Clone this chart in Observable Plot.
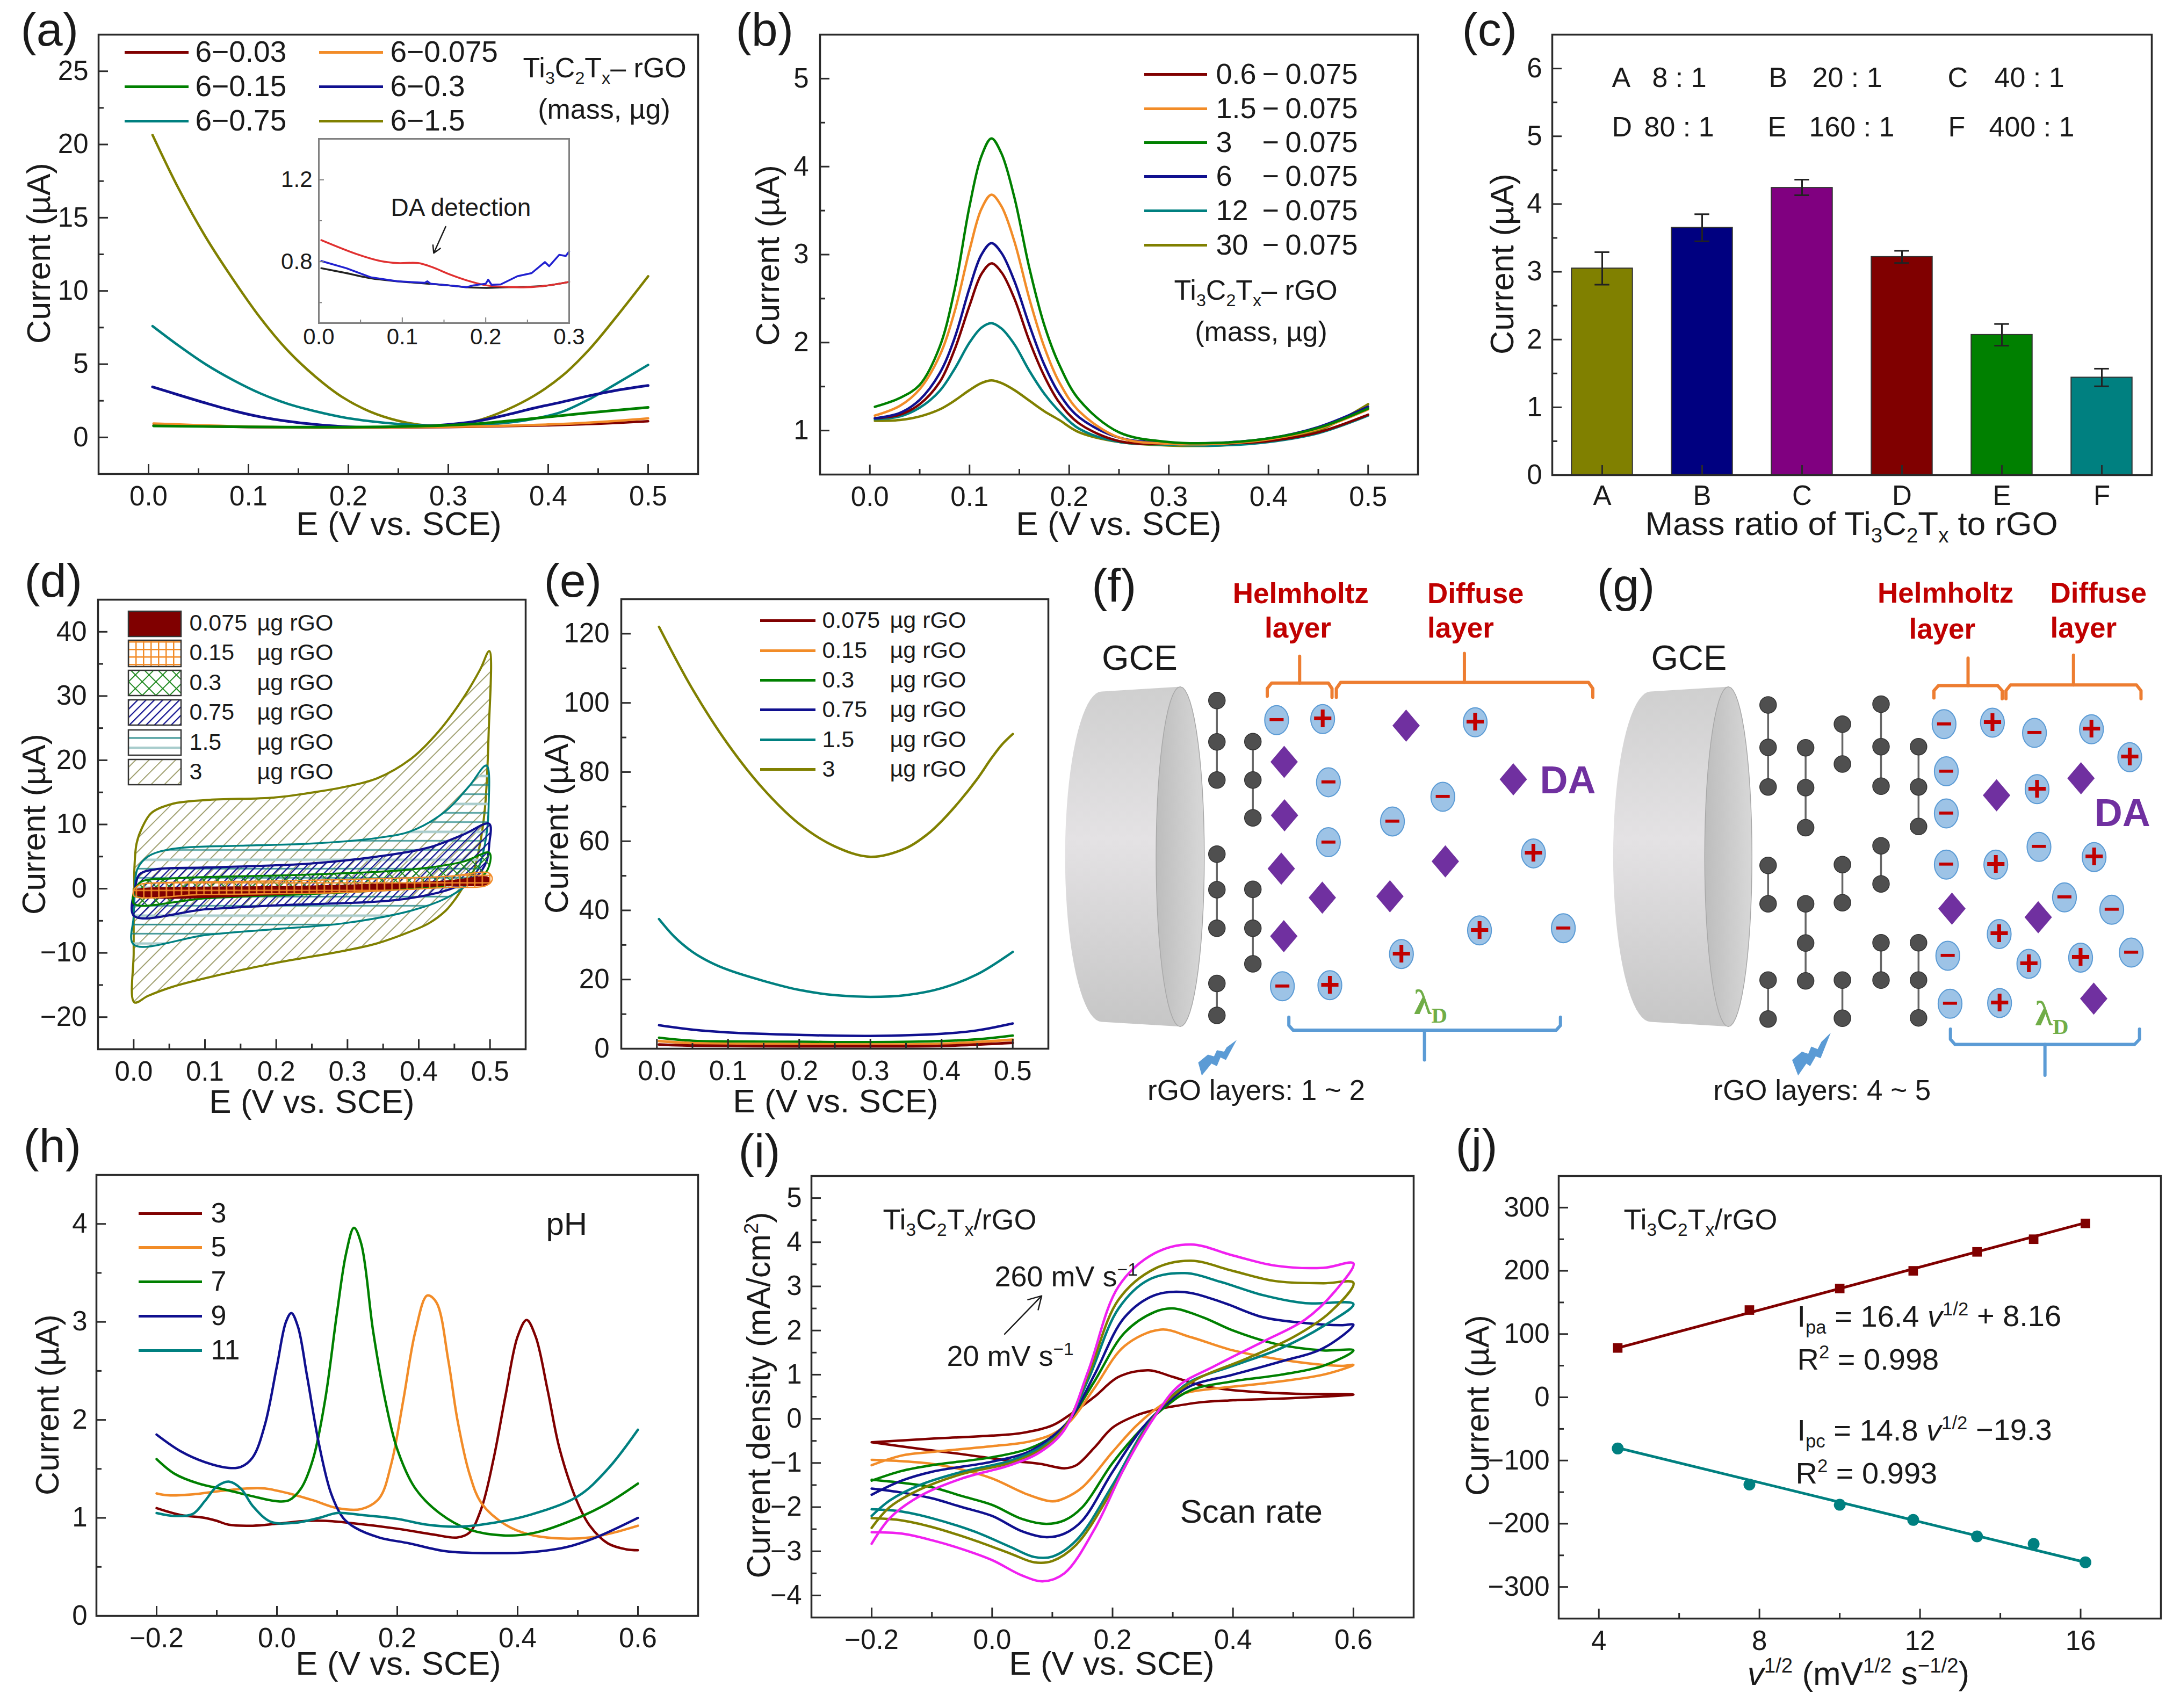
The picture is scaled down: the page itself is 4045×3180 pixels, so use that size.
<!DOCTYPE html>
<html><head><meta charset="utf-8">
<script src="https://cdn.jsdelivr.net/npm/d3@7"></script>
<script src="https://cdn.jsdelivr.net/npm/@observablehq/plot@0.6"></script>
<style>html,body{margin:0;padding:0;background:#fff}#root{position:relative;width:4045px;height:3180px;background:#fff;overflow:hidden}</style>
</head><body><div id="root"></div>
<script>
// ---------- colours
const RED='#800000',ORG='#f28c28',GRN='#008000',NAVY='#10108f',TEAL='#008080',OLV='#808000',MAG='#f020f0',PUR='#800080';
const INK='#1a1a1a';

// ---------- (a) curves [E, I]
const a_003=[[.005,.82],[.1,.7],[.2,.66],[.3,.7],[.4,.82],[.45,.93],[.5,1.1]];
const a_0075=[[.005,.95],[.1,.74],[.2,.67],[.3,.72],[.4,.88],[.45,1.05],[.5,1.3]];
const a_015=[[.005,.78],[.1,.72],[.2,.7],[.277,.78],[.332,.95],[.386,1.3],[.441,1.68],[.5,2.05]];
const a_03=[[.004,3.45],[.03,2.9],[.057,2.35],[.085,1.82],[.112,1.4],[.139,1.1],[.167,.88],[.194,.74],[.222,.68],[.249,.7],[.277,.78],[.304,.9],[.332,1.15],[.359,1.55],[.386,2.0],[.414,2.42],[.441,2.84],[.469,3.22],[.5,3.54]];
const a_075=[[.004,7.6],[.03,6.27],[.057,5.0],[.085,3.9],[.112,3.0],[.139,2.3],[.167,1.78],[.194,1.38],[.222,1.1],[.249,.92],[.277,.82],[.304,.8],[.332,.84],[.359,1.0],[.386,1.27],[.414,1.75],[.441,2.6],[.469,3.7],[.5,4.95]];
const a_15=[[.004,20.65],[.03,17.0],[.057,13.7],[.085,10.75],[.112,8.15],[.139,5.95],[.167,4.15],[.194,2.75],[.222,1.75],[.249,1.15],[.277,.82],[.304,.82],[.332,1.2],[.359,1.9],[.386,2.85],[.414,4.2],[.441,6.0],[.469,8.3],[.5,11.0]];
const aNames=['6−0.03','6−0.15','6−0.75','6−0.075','6−0.3','6−1.5'];
// inset of (a)
const inRed=[[.003,.905],[.045,.8375],[.074,.803],[.0945,.793],[.119,.793],[.136,.773],[.156,.739],[.177,.709],[.201,.684],[.226,.677],[.25,.675],[.275,.684],[.3,.701]];
const inBlack=[[.003,.768],[.033,.744],[.062,.719],[.0945,.704],[.156,.684],[.177,.675],[.201,.672],[.226,.675],[.25,.677],[.275,.684],[.3,.701]];
const inBlue=[[.003,.803],[.033,.768],[.062,.724],[.0945,.704],[.127,.697],[.13,.704],[.134,.692],[.156,.684],[.177,.675],[.185,.684],[.2,.692],[.203,.712],[.207,.687],[.218,.689],[.238,.729],[.255,.744],[.271,.798],[.276,.778],[.288,.833],[.296,.828],[.3,.85]];

// ---------- (b) curves
const bE=[.005,.03,.05,.07,.085,.1,.112,.122,.132,.145,.16,.175,.19,.21,.25,.3,.35,.4,.45,.5];
const b30=[1.11,1.12,1.16,1.24,1.34,1.46,1.54,1.57,1.54,1.46,1.34,1.22,1.12,.98,.87,.83,.83,.88,1.0,1.3];
const b12=[1.13,1.16,1.26,1.45,1.7,2.0,2.17,2.22,2.16,1.98,1.68,1.42,1.22,1.02,.87,.84,.83,.87,.97,1.17];
const b06=[1.14,1.18,1.3,1.55,1.92,2.42,2.78,2.9,2.8,2.5,2.02,1.62,1.32,1.08,.88,.85,.85,.88,.98,1.18];
const b6=[1.14,1.2,1.35,1.65,2.05,2.62,3.0,3.13,3.02,2.7,2.2,1.75,1.42,1.15,.92,.86,.86,.91,1.04,1.27];
const b15=[1.17,1.28,1.47,1.85,2.35,3.05,3.52,3.68,3.55,3.15,2.5,1.95,1.55,1.22,.92,.85,.85,.9,1.02,1.24];
const b3=[1.27,1.37,1.52,1.95,2.6,3.55,4.12,4.32,4.15,3.65,2.85,2.2,1.75,1.35,.98,.87,.86,.91,1.03,1.25];
const bNames=['0.6','1.5','3','6','12','30'];

// ---------- (c) bars
const cCats=['A','B','C','D','E','F'];
const cVals=[3.05,3.65,4.24,3.22,2.07,1.44];
const cLo=[2.81,3.45,4.13,3.13,1.91,1.31];
const cHi=[3.29,3.85,4.36,3.31,2.23,1.57];
const cCols=[OLV,'#000080',PUR,RED,GRN,TEAL];

// ---------- (d) CV loops
const dE3=[[.001,0],[.001,3],[.004,7],[.011,9.3],[.025,11.8],[.054,13.2],[.102,13.8],[.198,14.2],[.246,14.9],[.294,15.8],[.342,17.2],[.39,20.3],[.428,24.5],[.462,29.6],[.486,34.1],[.499,37],[.498,24],[.493,12.7],[.486,7],[.476,2.5],[.462,.2],[.452,-1.5],[.438,-3.4],[.414,-5.4],[.39,-6.6],[.342,-8.5],[.294,-9.7],[.198,-11.6],[.102,-13.9],[.054,-15.3],[.02,-16.7],[.001,-17.7],[0,-10],[0,-4.3],[0,0]];
const dE15=[[.002,0],[.005,3],[.02,5],[.054,6.2],[.15,6.7],[.246,7],[.342,7.9],[.39,9],[.438,12.1],[.471,16],[.495,19.2],[.498,12.7],[.493,7],[.483,3],[.466,.5],[.438,-1.5],[.39,-3.4],[.294,-5.4],[.198,-6.3],[.102,-7.2],[0,-8.7],[0,-4.3],[.002,0]];
const dE075=[[.002,0],[.008,2.2],[.03,3],[.102,3.3],[.246,3.9],[.342,5],[.414,6.4],[.462,8.4],[.499,10.1],[.499,7],[.495,4.2],[.481,1.9],[.462,.8],[.438,-.3],[.366,-1.8],[.198,-2.6],[.102,-3.2],[0,-4.2],[.002,0]];
const dE03=[[.002,0],[.011,1.1],[.054,1.6],[.246,2.2],[.39,3],[.462,4.2],[.499,5.6],[.499,3.6],[.486,1.6],[.438,.5],[.294,-.6],[.102,-1.5],[0,-2.3],[.002,0]];
const dE015=[[.001,0],[.01,.7],[.03,.9],[.246,1.3],[.438,1.9],[.499,2.4],[.503,1.4],[.495,.5],[.438,.2],[.294,-.6],[.1,-.9],[0,-1.1],[.001,0]];
const dE0075=[[.003,-.1],[.02,.1],[.246,.4],[.438,1.2],[.498,1.7],[.498,.8],[.438,.5],[.246,-.7],[.003,-.9],[.003,-.1]];
const dNames=['0.075','0.15','0.3','0.75','1.5','3'];

// ---------- (e) curves
const e3=[[.003,122],[.05,104],[.1,88],[.15,75],[.2,65],[.25,58.5],[.3,55.5],[.35,58],[.38,62],[.4,65.8],[.425,71.5],[.45,78],[.47,84],[.485,88],[.5,91]];
const e15=[[.003,37.5],[.025,32.3],[.05,28],[.075,25],[.1,22.8],[.15,19.6],[.2,17],[.25,15.5],[.3,15],[.35,15.5],[.4,17.5],[.45,21.5],[.5,28]];
const e075=[[.003,6.8],[.05,5.5],[.1,4.7],[.2,4],[.3,3.7],[.4,4.3],[.45,5.3],[.5,7.3]];
const e03=[[.003,3.2],[.05,2.3],[.1,2.1],[.2,2],[.3,1.9],[.4,2.2],[.45,2.7],[.5,3.8]];
const e015=[[.003,2.2],[.05,1.6],[.2,1.3],[.3,1.2],[.4,1.4],[.5,2.6]];
const e0075=[[.003,1.2],[.05,.9],[.2,.7],[.3,.7],[.4,.8],[.5,1.7]];

// ---------- (h) curves
const h3=[[-.2,1.1],[-.16,1.03],[-.12,1.0],[-.1,.97],[-.08,.93],[-.04,.92],[0,.94],[.05,.97],[.08,.97],[.12,.95],[.2,.89],[.26,.83],[.3,.8],[.32,.85],[.34,1.1],[.36,1.6],[.38,2.25],[.4,2.85],[.415,3.02],[.43,2.85],[.45,2.3],[.47,1.7],[.5,1.15],[.52,.92],[.55,.74],[.58,.68],[.6,.67]];
const h5=[[-.2,1.25],[-.18,1.23],[-.14,1.24],[-.1,1.27],[-.05,1.3],[-.02,1.3],[.02,1.25],[.06,1.18],[.1,1.1],[.14,1.09],[.17,1.2],[.19,1.55],[.21,2.2],[.23,2.9],[.25,3.27],[.265,3.2],[.285,2.6],[.3,2.0],[.32,1.45],[.34,1.15],[.38,.93],[.42,.83],[.47,.79],[.52,.8],[.56,.85],[.6,.92]];
const h7=[[-.2,1.6],[-.17,1.45],[-.13,1.35],[-.08,1.28],[-.04,1.22],[0,1.17],[.02,1.18],[.04,1.3],[.06,1.6],[.08,2.2],[.1,3.1],[.115,3.7],[.128,3.96],[.14,3.8],[.16,2.9],[.18,2.2],[.2,1.7],[.23,1.3],[.27,1.05],[.32,.88],[.38,.82],[.43,.85],[.5,1.0],[.55,1.15],[.6,1.35]];
const h9=[[-.2,1.85],[-.16,1.68],[-.12,1.57],[-.08,1.51],[-.06,1.52],[-.04,1.62],[-.02,1.95],[0,2.55],[.015,3.0],[.024,3.09],[.035,2.95],[.05,2.45],[.07,1.75],[.09,1.25],[.11,1.0],[.13,.9],[.17,.8],[.22,.74],[.28,.66],[.35,.64],[.42,.65],[.48,.7],[.53,.8],[.6,1.0]];
const h11=[[-.2,1.05],[-.17,1.02],[-.14,1.04],[-.12,1.17],[-.1,1.32],[-.08,1.37],[-.06,1.3],[-.04,1.12],[-.01,.96],[.03,.95],[.07,1.0],[.1,1.05],[.14,1.03],[.2,.99],[.25,.93],[.3,.91],[.36,.95],[.42,1.03],[.5,1.22],[.55,1.5],[.6,1.9]];
const hNames=['3','5','7','9','11'];

// ---------- (i) CV loops
const i20=[[-.2,-.53],[-.1,-.45],[0,-.38],[.05,-.32],[.1,-.15],[.13,.1],[.17,.5],[.21,.95],[.26,1.1],[.3,.95],[.35,.75],[.4,.65],[.5,.57],[.6,.55],[.5,.47],[.4,.42],[.35,.38],[.3,.28],[.27,.2],[.24,.08],[.2,-.2],[.17,-.65],[.14,-1.05],[.12,-1.12],[.08,-1.02],[.03,-.95],[-.05,-.8],[-.12,-.68],[-.2,-.53]];
const i60=[[-.2,-1.05],[-.15,-.83],[-.1,-.75],[0,-.62],[.06,-.52],[.1,-.35],[.13,-.05],[.17,.7],[.22,1.65],[.28,2.02],[.33,1.85],[.4,1.55],[.5,1.3],[.58,1.2],[.6,1.22],[.55,1.0],[.45,.8],[.38,.7],[.32,.58],[.28,.3],[.24,-.15],[.2,-.75],[.15,-1.55],[.12,-1.8],[.1,-1.87],[.06,-1.72],[0,-1.35],[-.05,-1.15],[-.1,-1.02],[-.15,-.96],[-.2,-.93]];
const i100=[[-.2,-1.4],[-.15,-1.18],[-.1,-1.05],[0,-.87],[.06,-.68],[.1,-.4],[.13,0],[.17,.85],[.22,1.95],[.27,2.42],[.3,2.5],[.35,2.3],[.4,2.0],[.47,1.7],[.55,1.55],[.6,1.55],[.55,1.2],[.48,1.0],[.4,.85],[.33,.65],[.29,.3],[.25,-.2],[.2,-1.0],[.15,-2.0],[.12,-2.3],[.09,-2.38],[.05,-2.27],[0,-1.95],[-.05,-1.75],[-.1,-1.55],[-.15,-1.45],[-.2,-1.38]];
const i140=[[-.2,-1.72],[-.15,-1.4],[-.1,-1.2],[0,-.97],[.06,-.75],[.1,-.4],[.13,0],[.17,1.0],[.22,2.3],[.27,2.8],[.32,2.87],[.38,2.65],[.45,2.3],[.52,2.17],[.58,2.12],[.6,2.13],[.55,1.6],[.48,1.3],[.4,1.0],[.33,.75],[.29,.35],[.25,-.2],[.2,-1.2],[.15,-2.3],[.12,-2.6],[.09,-2.68],[.05,-2.55],[0,-2.2],[-.05,-2.0],[-.1,-1.8],[-.15,-1.67],[-.2,-1.58]];
const i180=[[-.2,-2.2],[-.17,-1.85],[-.12,-1.5],[-.05,-1.2],[.03,-.95],[.08,-.65],[.12,-.2],[.16,.9],[.21,2.5],[.26,3.15],[.32,3.3],[.38,3.1],[.45,2.8],[.52,2.62],[.6,2.6],[.55,2.1],[.48,1.6],[.4,1.2],[.33,.85],[.29,.4],[.25,-.3],[.2,-1.5],[.14,-2.75],[.1,-3.12],[.07,-3.13],[.03,-2.9],[-.03,-2.55],[-.1,-2.25],[-.15,-2.1],[-.2,-2.05]];
const i220=[[-.2,-2.47],[-.17,-2.0],[-.12,-1.6],[-.05,-1.25],[.03,-1],[.08,-.7],[.12,-.2],[.16,1.0],[.21,2.7],[.27,3.4],[.33,3.58],[.4,3.35],[.47,3.12],[.55,3.07],[.6,3.08],[.56,2.4],[.5,1.85],[.42,1.35],[.34,.9],[.29,.4],[.25,-.35],[.2,-1.6],[.14,-2.85],[.1,-3.22],[.07,-3.25],[.03,-3.05],[-.03,-2.75],[-.1,-2.45],[-.15,-2.3],[-.2,-2.25]];
const i260=[[-.2,-2.83],[-.17,-2.25],[-.12,-1.75],[-.05,-1.35],[.03,-1.05],[.08,-.75],[.12,-.25],[.16,1.1],[.21,3.0],[.27,3.75],[.33,3.95],[.4,3.7],[.47,3.47],[.55,3.42],[.6,3.52],[.57,2.9],[.52,2.25],[.45,1.75],[.37,1.2],[.31,.75],[.27,.05],[.22,-1.1],[.17,-2.5],[.12,-3.5],[.085,-3.68],[.05,-3.55],[0,-3.2],[-.05,-2.95],[-.1,-2.75],[-.15,-2.6],[-.2,-2.57]];

// ---------- (j) points
const jX=[4.47,7.75,10,11.83,13.42,14.83,16.12];
const jPa=[78,138,172,200,230,250,275];
const jPc=[-81,-138,-170,-194,-220,-232,-261];
const jFitPa=[[4.47,78],[16.12,276]];
const jFitPc=[[4.47,-80],[16.12,-261]];

// ---------- (f) schematic, in its own units
const fMinus=[[636,459],[780,630],[780,795],[652,1192],[1098,670],[958,738],[1433,1032]];
const fPlus=[[764,456],[1188,465],[1350,826],[1200,1038],[983,1103],[784,1189]];
const fDA=[[996,474],[657,574],[658,721],[649,868],[763,948],[951,944],[1105,848],[656,1054],[1294,622]];
const fChains=[[470,[405,519,624]],[470,[828,926,1032]],[470,[1184,1272]],[570,[518,624,728]],[570,[925,1032,1130]]];
// ---------- (g) schematic
const gMinus=[[957,470],[1198,494],[963,600],[963,716],[963,857],[1210,808],[1278,947],[1404,981],[967,1108],[1456,1099],[973,1240]];
const gPlus=[[1086,466],[1350,484],[1452,561],[1205,649],[1095,857],[1357,836],[1104,1048],[1183,1130],[1321,1113],[1105,1238]];
const gDA=[[1097,666],[1322,619],[978,978],[1208,1002],[1356,1226]];
const gChains=[[488,[417,534,643]],[488,[859,965]],[488,[1175,1282]],[588,[535,645,755]],[588,[965,1073,1177]],[686,[470,580]],[686,[857,962]],[686,[1175,1280]],[789,[415,532,641]],[789,[805,910]],[789,[1072,1175]],[889,[532,643,752]],[889,[1072,1175,1279]]];

// ---------- helpers
const root=document.getElementById('root');
const FONT='"Liberation Sans",Arial,sans-serif';
const SVGNS='http://www.w3.org/2000/svg';
function rich(svg){
  svg.querySelectorAll('text').forEach(el=>{
    const s=el.textContent;
    if(!/[_^*]\{/.test(s))return;
    el.textContent='';
    const re=/([_^*])\{([^}]*)\}/g;let last=0,m,cur=0;
    const add=(t,kind)=>{
      if(!t)return;
      const ts=document.createElementNS(SVGNS,'tspan');
      const script=kind==='_'||kind==='^';
      const size=script?.62:1;
      const target=kind==='_'?.24:kind==='^'?-.36:0;
      if(script)ts.setAttribute('font-size','62%');
      if(kind==='*')ts.setAttribute('font-style','italic');
      if(target!==cur)ts.setAttribute('dy',((target-cur)/size).toFixed(3)+'em');
      cur=target;ts.style.whiteSpace='pre';ts.textContent=t;el.appendChild(ts);
    };
    while((m=re.exec(s))){add(s.slice(last,m.index),'');add(m[2],m[1]);last=re.lastIndex;}
    add(s.slice(last),'');
  });
}
const ix=(c,px)=>c.x[0]+(px-c.box[0])/(c.box[2]-c.box[0])*(c.x[1]-c.x[0]);
const iy=(c,py)=>c.y[1]-(py-c.box[1])/(c.box[3]-c.box[1])*(c.y[1]-c.y[0]);
function note(c,px,py,t,o={}){
  return Plot.text([t],{frameAnchor:'top-left',dx:px-c.box[0],dy:py-c.box[1],text:d=>d,fontSize:o.size||51,textAnchor:o.anchor||'start',lineAnchor:o.line||'bottom',rotate:o.rotate||0,fill:o.fill||INK,fontWeight:o.weight,fontFamily:FONT});
}
const curve=(pts,col,w=4.5)=>Plot.line(pts,{x:d=>d[0],y:d=>d[1],stroke:col,strokeWidth:w,curve:'catmull-rom'});
function legendLines(c,x1,x2,ys,cols,w=5){
  return ys.map((y,i)=>Plot.ruleY([iy(c,y)],{x1:ix(c,x1),x2:ix(c,x2),stroke:cols[i],strokeWidth:w}));
}
function panel(c,marks){
  const [L,T,R,B]=c.box,W=R-L,H=B-T,ml=210,mt=90,mr=20,mb=150;
  const col=c.frame||'#2a2a2a',tw=c.tickW||3,tm=c.tickLen||18,tn=c.minorLen||10,fs=c.fontSize||51;
  const svg=Plot.plot({width:W+ml+mr,height:H+mt+mb,marginLeft:ml,marginRight:mr,marginTop:mt,marginBottom:mb,
    x:{domain:c.x,axis:null,...(c.xOpts||{})},y:{domain:c.y,axis:null},
    marks:[...marks,
      Plot.tickX(c.xMajor,{insetTop:H-tm,stroke:col,strokeWidth:tw}),
      ...(c.xMinor?[Plot.tickX(c.xMinor,{insetTop:H-tn,stroke:col,strokeWidth:tw})]:[]),
      Plot.tickY(c.yMajor,{insetRight:W-tm,stroke:col,strokeWidth:tw}),
      ...(c.yMinor?[Plot.tickY(c.yMinor,{insetRight:W-tn,stroke:col,strokeWidth:tw})]:[]),
      Plot.frame({stroke:col,strokeWidth:c.frameW||3.5}),
      Plot.axisX({ticks:c.xMajor,tickSize:0,tickPadding:c.xPad??22,fontSize:fs,label:null,tickFormat:c.xFmt,fill:INK,fontFamily:FONT}),
      Plot.axisY({ticks:c.yLabels||c.yMajor,tickSize:0,tickPadding:c.yPad??19,fontSize:fs,label:null,tickFormat:c.yFmt,fill:INK,fontFamily:FONT}),
    ],
    style:{position:'absolute',left:(L-ml)+'px',top:(T-mt)+'px',overflow:'visible',background:'transparent',maxWidth:'none',fontFamily:FONT}});
  rich(svg);root.appendChild(svg);
}
const f1=d3.format('.1f'),fd=d=>d3.format('d')(d);
const defs=html=>()=>{const g=document.createElementNS(SVGNS,'g');g.innerHTML='<defs>'+html+'</defs>';return g;};
const YLAB='Current (µA)',XLAB='E (V vs. SCE)';
const xLabel=(c,px,py,t=XLAB)=>note(c,px,py,t,{size:62,anchor:'middle'});
const yLabel=(c,px,py,t=YLAB)=>note(c,px,py,t,{size:61,anchor:'middle',rotate:-90});
const tag=(c,px,py,t)=>note(c,px,py,t,{size:88});
const E5={xMajor:[0,.1,.2,.3,.4,.5],xMinor:[.05,.15,.25,.35,.45],xFmt:f1};
const E8={xMajor:[-.2,0,.2,.4,.6],xMinor:[-.1,.1,.3,.5],xFmt:f1};

// ---------- panel a
{const c={box:[183,64,1299,882],x:[-.05,.55],y:[-2.5,27.5],...E5,yMajor:[0,5,10,15,20,25],yMinor:[2.5,7.5,12.5,17.5,22.5],yFmt:fd};
 panel(c,[curve(a_15,OLV),curve(a_075,TEAL),curve(a_03,NAVY,5),curve(a_003,RED),curve(a_0075,ORG),curve(a_015,GRN,5),
  ...legendLines(c,232,351,[97,161,225],[RED,GRN,TEAL]),...legendLines(c,594,713,[97,161,225],[ORG,NAVY,OLV]),
  ...aNames.slice(0,3).map((n,i)=>note(c,363,97+64*i,n,{size:55,line:'middle'})),
  ...aNames.slice(3).map((n,i)=>note(c,726,97+64*i,n,{size:55,line:'middle'})),
  note(c,973,143,'Ti_{3}C_{2}T_{x}– rGO',{size:52}),note(c,1124,220,'(mass, µg)',{size:52,anchor:'middle'}),
  xLabel(c,742,995),yLabel(c,92,471),tag(c,38,84,'(a)')]);}
// ---------- inset of a
{const c={box:[593,258,1059,601],x:[0,.3],y:[.5,1.4],xMajor:[0,.1,.2,.3],xMinor:[.05,.15,.25],yMajor:[.8,1.2],yMinor:[.6,1.0],xFmt:f1,yFmt:f1,frame:'#808080',frameW:3,tickW:2,tickLen:10,minorLen:6,fontSize:42,xPad:10,yPad:12};
 panel(c,[curve(inBlack,'#222',3.5),curve(inRed,'#e03030',3.5),Plot.line(inBlue,{x:d=>d[0],y:d=>d[1],stroke:'#2020d0',strokeWidth:3.5}),
  note(c,727,401,'DA detection',{size:46}),
  Plot.arrow([{x1:.152,y1:.971,x2:.1377,y2:.842}],{x1:'x1',y1:'y1',x2:'x2',y2:'y2',stroke:INK,strokeWidth:2.5,headLength:9,bend:0})]);}

// ---------- panel b
{const c={box:[1526,64,2639,883],x:[-.05,.55],y:[.5,5.5],...E5,yMajor:[1,2,3,4,5],yMinor:[1.5,2.5,3.5,4.5],yFmt:fd,yPad:21};
 const cols=[RED,ORG,GRN,NAVY,TEAL,OLV],ys=[138,202,265,328,392,456];
 panel(c,[...[b30,b12,b06,b6,b15,b3].map((s,i)=>curve(s.map((v,k)=>[bE[k],v]),[OLV,TEAL,RED,NAVY,ORG,GRN][i])),
  ...legendLines(c,2130,2247,ys,cols),
  ...bNames.map((n,i)=>note(c,2263,ys[i],n,{size:54,line:'middle'})),
  ...ys.map(y=>note(c,2349,y,'−',{size:54,line:'middle'})),...ys.map(y=>note(c,2392,y,'0.075',{size:54,line:'middle'})),
  note(c,2185,557,'Ti_{3}C_{2}T_{x}– rGO',{size:52}),note(c,2347,634,'(mass, µg)',{size:52,anchor:'middle'}),
  xLabel(c,2082,995),yLabel(c,1449,475),tag(c,1369,84,'(b)')]);}

// ---------- panel c
{const c={box:[2889,64,4005,884],x:cCats,y:[0,6.5],xOpts:{type:'band',paddingInner:.39,paddingOuter:.195,round:false},xMajor:cCats,yMajor:[0,1,2,3,4,5,6],yMinor:[.5,1.5,2.5,3.5,4.5,5.5],yFmt:fd,xFmt:d=>d,xPad:19};
 const tbl=cCats.map((k,i)=>({k,v:cVals[i],lo:cLo[i],hi:cHi[i],col:cCols[i]}));
 panel(c,[Plot.barY(tbl,{x:'k',y:'v',fill:'col',stroke:'#333',strokeWidth:2}),
  Plot.ruleX(tbl,{x:'k',y1:'lo',y2:'hi',stroke:'#222',strokeWidth:3}),
  Plot.tickY(tbl,{x:'k',y:'hi',insetLeft:43,insetRight:43,stroke:'#222',strokeWidth:3}),
  Plot.tickY(tbl,{x:'k',y:'lo',insetLeft:43,insetRight:43,stroke:'#222',strokeWidth:3}),
  ...[[3000,161,'A'],[3075,161,'8 : 1'],[3292,161,'B'],[3373,161,'20 : 1'],[3625,161,'C'],[3712,161,'40 : 1'],[3000,253,'D'],[3060,253,'80 : 1'],[3290,253,'E'],[3367,253,'160 : 1'],[3626,253,'F'],[3702,253,'400 : 1']].map(r=>note(c,r[0],r[1],r[2],{size:52})),
  xLabel(c,3446,995,'Mass ratio of Ti_{3}C_{2}T_{x} to rGO'),yLabel(c,2816,491),tag(c,2721,84,'(c)')]);}

// ---------- panel d
{const c={box:[182,1116,978,1953],x:[-.05,.55],y:[-25,45],...E5,yMajor:[-20,-10,0,10,20,30,40],yMinor:[-15,-5,5,15,25,35],yFmt:fd,yPad:21};
 const hatch=`
 <pattern id="pOlive" patternUnits="userSpaceOnUse" width="17.5" height="17.5" patternTransform="rotate(45)"><line x1="1" y1="0" x2="1" y2="17.5" stroke="#a0a070" stroke-width="2"/></pattern>
 <pattern id="pTeal" patternUnits="userSpaceOnUse" width="52" height="52"><line x1="0" y1="2" x2="52" y2="2" stroke="#a8cccc" stroke-width="5"/><line x1="0" y1="19" x2="52" y2="19" stroke="#208585" stroke-width="2.5"/><line x1="0" y1="36" x2="52" y2="36" stroke="#208585" stroke-width="2.5"/></pattern>
 <pattern id="pBlue" patternUnits="userSpaceOnUse" width="11" height="11" patternTransform="rotate(45)"><line x1="1" y1="0" x2="1" y2="11" stroke="#10108f" stroke-width="2.5"/></pattern>
 <pattern id="pGreen" patternUnits="userSpaceOnUse" width="18" height="18" patternTransform="rotate(45)"><path d="M1,0V18M0,1H18" stroke="#208a20" stroke-width="2" fill="none"/></pattern>
 <pattern id="pOrange" patternUnits="userSpaceOnUse" width="14" height="14"><path d="M1,0V14M0,1H14" stroke="#f28c28" stroke-width="3" fill="none"/></pattern>`;
 const ys=[[1138,1185],[1192,1241],[1248,1295],[1303,1350],[1359,1406],[1414,1461]];
 const fills=[RED,'url(#pOrange)','url(#pGreen)','url(#pBlue)','url(#pTeal)','url(#pOlive)'];
 const rows=[1160,1215,1271,1326,1382,1437];
 const loop=(s,col,fill,w=3.5)=>Plot.line(s,{x:d=>d[0],y:d=>d[1],stroke:col,strokeWidth:w,fill,curve:'catmull-rom'});
 panel(c,[defs(hatch),loop(dE3,OLV,'url(#pOlive)',4),loop(dE15,TEAL,'url(#pTeal)'),loop(dE075,NAVY,'url(#pBlue)',4),loop(dE03,GRN,'url(#pGreen)'),loop(dE0075,RED,RED,2),loop(dE015,ORG,'url(#pOrange)',2.5),
  ...ys.map((y,i)=>Plot.rect([0],{x1:ix(c,239),x2:ix(c,337),y1:iy(c,y[1]),y2:iy(c,y[0]),fill:fills[i],stroke:'#333',strokeWidth:2.5})),
  ...dNames.map((n,i)=>note(c,352,rows[i],n,{size:43,line:'middle'})),...rows.map(y=>note(c,478,y,'µg rGO',{size:43,line:'middle'})),
  xLabel(c,580,2071),yLabel(c,83,1534),tag(c,45,1110,'(d)')]);}

// ---------- panel e
{const c={box:[1156,1115,1951,1952],x:[-.05,.55],y:[0,130],...E5,yMajor:[0,20,40,60,80,100,120],yMinor:[10,30,50,70,90,110],yFmt:fd,yPad:22};
 const rows=[1155,1211,1266,1321,1377,1432];
 panel(c,[curve(e3,OLV),curve(e15,TEAL),curve(e075,NAVY),curve(e03,GRN),curve(e015,ORG,5),curve(e0075,RED,5),
  ...legendLines(c,1415,1518,rows,[RED,ORG,GRN,NAVY,TEAL,OLV]),
  ...dNames.map((n,i)=>note(c,1530,rows[i],n,{size:43,line:'middle'})),...rows.map(y=>note(c,1656,y,'µg rGO',{size:43,line:'middle'})),
  xLabel(c,1555,2070),yLabel(c,1056,1532),tag(c,1012,1110,'(e)')]);}

// ---------- schematics f, g
const ionSym={draw(p,s){const r=Math.sqrt(s/Math.PI),a=r*.82,b=r*1.0,k=.5523;p.moveTo(0,-b);p.bezierCurveTo(k*a,-b,a,-k*b,a,0);p.bezierCurveTo(a,k*b,k*a,b,0,b);p.bezierCurveTo(-k*a,b,-a,k*b,-a,0);p.bezierCurveTo(-a,-k*b,-k*a,-b,0,-b);p.closePath();}};
const diaSym={draw(p,s){const r=Math.sqrt(s/Math.PI),a=r*.85,b=r;p.moveTo(0,-b);p.lineTo(a,0);p.lineTo(0,b);p.lineTo(-a,0);p.closePath();}};
const ell=(cx,cy,rx,ry,a0,a1,n=40)=>d3.range(n+1).map(i=>{const t=(a0+(a1-a0)*i/n)*Math.PI/180;return [cx+rx*Math.cos(t),cy+ry*Math.sin(t)];});
const X0=d=>d[0],Y0=d=>d[1];
function schematic(o){
  const sn=(x,y,t,p={})=>Plot.text([t],{x:()=>x,y:()=>y,text:d=>d,fontSize:p.size||51,fill:p.fill||INK,fontWeight:p.weight,textAnchor:p.anchor||'start',lineAnchor:'bottom',fontFamily:p.family||FONT});
  const poly=(pts,fill)=>Plot.line(pts,{x:X0,y:Y0,fill,stroke:'none'});
  const stroke=(pts,col,w=6)=>Plot.line(pts,{x:X0,y:Y0,stroke:col,strokeWidth:w,strokeLinejoin:'round'});
  const links=o.chains.map(([x,ys])=>Plot.line(ys.map(y=>[x,y]),{x:X0,y:Y0,stroke:'#666',strokeWidth:3.5}));
  const nodes=o.chains.flatMap(([x,ys])=>ys.map(y=>[x,y]));
  const body=[...ell(o.l[0],835,o.l[1],455,270,90),...ell(o.r[0],835,o.r[1],468,90,-90)];
  const svg=Plot.plot({width:o.w,height:o.h,margin:0,x:{domain:[0,1568],axis:null},y:{domain:[1568,0],axis:null},
   marks:[defs(`<linearGradient id="${o.id}B" x1="0" y1="0" x2="0" y2="1"><stop offset="0" stop-color="#cfcfcf"/><stop offset=".45" stop-color="#e4e2e4"/><stop offset="1" stop-color="#c6c6c6"/></linearGradient><linearGradient id="${o.id}C" x1="0" y1="0" x2="1" y2="0"><stop offset="0" stop-color="#bdbdbd"/><stop offset="1" stop-color="#d8d8d8"/></linearGradient>`),
    poly(body,`url(#${o.id}B)`),
    Plot.line(ell(o.r[0],835,o.r[1],468,0,360,60),{x:X0,y:Y0,fill:`url(#${o.id}C)`,stroke:'#a8a8a8',strokeWidth:1.5}),
    ...links,
    Plot.dot(nodes,{x:X0,y:Y0,r:15.5,fill:'#4f4f4f',stroke:'#333',strokeWidth:1.5}),
    Plot.dot(o.minus.concat(o.plus),{x:X0,y:Y0,r:27,symbol:ionSym,fill:'#9dc3e6',stroke:'#5b9bd5',strokeWidth:2}),
    Plot.dot(o.da,{x:X0,y:Y0,r:30,symbol:diaSym,fill:'#7030a0'}),
    Plot.text(o.plus,{x:X0,y:Y0,text:()=>'+',fontSize:64,fontWeight:'bold',fill:'#c00000',lineAnchor:'middle',textAnchor:'middle',fontFamily:FONT}),
    Plot.text(o.minus,{x:X0,y:Y0,text:()=>'−',fontSize:52,fontWeight:'bold',fill:'#c00000',lineAnchor:'middle',textAnchor:'middle',fontFamily:FONT}),
    ...o.orange.map(p=>stroke(p,'#ed7d31')),...o.blue.map(p=>stroke(p,'#5b9bd5')),
    poly(o.bolt,'#5b9bd5'),
    ...o.texts.map(t=>sn(...t)),
   ],
   style:{position:'absolute',left:o.left+'px',top:o.top+'px',overflow:'visible',background:'transparent',maxWidth:'none',fontFamily:FONT}});
  rich(svg);root.appendChild(svg);
}
const RB={size:53,weight:'bold',fill:'#c00000'};
schematic({id:'f',left:1950,top:1030,w:1050,h:1060,l:[150,102],r:[368,67],chains:fChains,minus:fMinus,plus:fPlus,da:fDA,
 orange:[[[610,393],[610,372],[622,357],[780,357],[790,372],[790,396]],[[700,283],[700,357]],[[802,396],[802,372],[814,355],[1503,355],[1515,372],[1515,396]],[[1158,275],[1158,355]]],
 blue:[[[670,1277],[670,1300],[682,1313],[1413,1313],[1425,1300],[1425,1277]],[[1047,1313],[1047,1395]]],
 bolt:[[525,1340],[497,1360],[490,1372],[470,1368],[462,1385],[445,1380],[418,1402],[428,1438],[455,1405],[470,1412],[480,1388],[495,1395],[525,1340]],
 texts:[[122,133,'(f)',{size:88}],[703,137,'Helmholtz',{...RB,anchor:'middle'}],[695,232,'layer',{...RB,anchor:'middle'}],[1055,137,'Diffuse',RB],[1055,232,'layer',RB],
  [150,320,'GCE',{size:65}],[1368,660,'DA',{size:72,weight:'bold',fill:'#7030a0'}],[277,1505,'rGO layers: 1 ~ 2',{size:53}],
  [1018,1268,'λ_{D}',{size:66,weight:'bold',fill:'#70ad47',family:'"Liberation Serif",serif'}]]});
schematic({id:'g',left:2950,top:1030,w:1095,h:1060,l:[175,100],r:[382,63],chains:gChains,minus:gMinus,plus:gPlus,da:gDA,
 orange:[[[930,398],[930,378],[942,364],[1100,364],[1112,378],[1112,400]],[[1021,288],[1021,364]],[[1122,400],[1122,378],[1134,362],[1470,362],[1482,378],[1482,400]],[[1302,280],[1302,362]]],
 blue:[[[974,1310],[974,1338],[986,1352],[1465,1352],[1478,1338],[1478,1310]],[[1226,1352],[1226,1437]]],
 bolt:[[655,1320],[630,1345],[620,1365],[603,1358],[595,1378],[578,1372],[552,1395],[568,1438],[590,1405],[600,1412],[615,1385],[628,1390],[655,1320]],
 texts:[[32,133,'(g)',{size:88}],[961,135,'Helmholtz',{...RB,anchor:'middle'}],[952,235,'layer',{...RB,anchor:'middle'}],[1240,135,'Diffuse',RB],[1240,232,'layer',RB],
  [176,320,'GCE',{size:65}],[1358,750,'DA',{size:72,weight:'bold',fill:'#7030a0'}],[342,1505,'rGO layers: 4 ~ 5',{size:53}],
  [1200,1300,'λ_{D}',{size:66,weight:'bold',fill:'#70ad47',family:'"Liberation Serif",serif'}]]});

// ---------- panel h
{const c={box:[179,2187,1299,3008],x:[-.3,.7],y:[0,4.5],...E8,yMajor:[0,1,2,3,4],yMinor:[.5,1.5,2.5,3.5],yFmt:fd,yPad:17};
 const rows=[2259,2322,2386,2450,2514];
 panel(c,[curve(h3,RED),curve(h5,ORG),curve(h7,GRN),curve(h9,NAVY),curve(h11,TEAL),
  ...legendLines(c,258,376,rows,[RED,ORG,GRN,NAVY,TEAL]),
  ...hNames.map((n,i)=>note(c,392,rows[i],n,{size:52,line:'middle'})),
  note(c,1016,2298,'pH',{size:60}),
  xLabel(c,741,3117),yLabel(c,108,2615),tag(c,43,2162,'(h)')]);}

// ---------- panel i
{const c={box:[1510,2189,2631,3011],x:[-.3,.7],y:[-4.5,5.5],...E8,yMajor:[-4,-3,-2,-1,0,1,2,3,4,5],yMinor:[-3.5,-2.5,-1.5,-.5,.5,1.5,2.5,3.5,4.5],yFmt:fd,yPad:18};
 panel(c,[curve(i20,RED),curve(i60,ORG),curve(i100,GRN),curve(i140,NAVY),curve(i180,TEAL),curve(i220,OLV),curve(i260,MAG),
  note(c,1643,2288,'Ti_{3}C_{2}T_{x}/rGO',{size:54}),
  note(c,1851,2394,'260 mV s^{−1}',{size:54}),note(c,1762,2542,'20 mV s^{−1}',{size:54}),note(c,2196,2834,'Scan rate',{size:62}),
  Plot.arrow([{x1:.0208,y1:1.92,x2:.0823,y2:2.786}],{x1:'x1',y1:'y1',x2:'x2',y2:'y2',stroke:INK,strokeWidth:2.5,headLength:16,bend:0}),
  xLabel(c,2069,3117),yLabel(c,1432,2597,'Current density (mA/cm^{2})'),tag(c,1374,2172,'(i)')]);}

// ---------- panel j
{const c={box:[2901,2189,4022,3013],x:[3,18],y:[-350,350],xMajor:[4,8,12,16],xMinor:[6,10,14],xFmt:fd,yMajor:[-300,-200,-100,0,100,200,300],yMinor:[-250,-150,-50,50,150,250],yFmt:fd,yPad:17};
 const pa=jX.map((x,i)=>[x,jPa[i]]),pc=jX.map((x,i)=>[x,jPc[i]]);
 panel(c,[Plot.line(jFitPa,{x:X0,y:Y0,stroke:RED,strokeWidth:5}),Plot.line(jFitPc,{x:X0,y:Y0,stroke:TEAL,strokeWidth:5}),
  Plot.dot(pa,{x:X0,y:Y0,symbol:'square',r:10,fill:RED}),Plot.dot(pc,{x:X0,y:Y0,r:11,fill:TEAL}),
  note(c,3022,2288,'Ti_{3}C_{2}T_{x}/rGO',{size:54}),
  note(c,3345,2469,'I_{pa} = 16.4 *{v}^{1/2} + 8.16',{size:56}),note(c,3345,2549,'R^{2} = 0.998',{size:56}),
  note(c,3345,2681,'I_{pc} = 14.8 *{v}^{1/2} −19.3',{size:56}),note(c,3342,2761,'R^{2} = 0.993',{size:56}),
  xLabel(c,3459,3136,'*{v}^{1/2} (mV^{1/2} s^{−1/2})'),yLabel(c,2770,2616),tag(c,2709,2162,'(j)')]);}
</script></body></html>
